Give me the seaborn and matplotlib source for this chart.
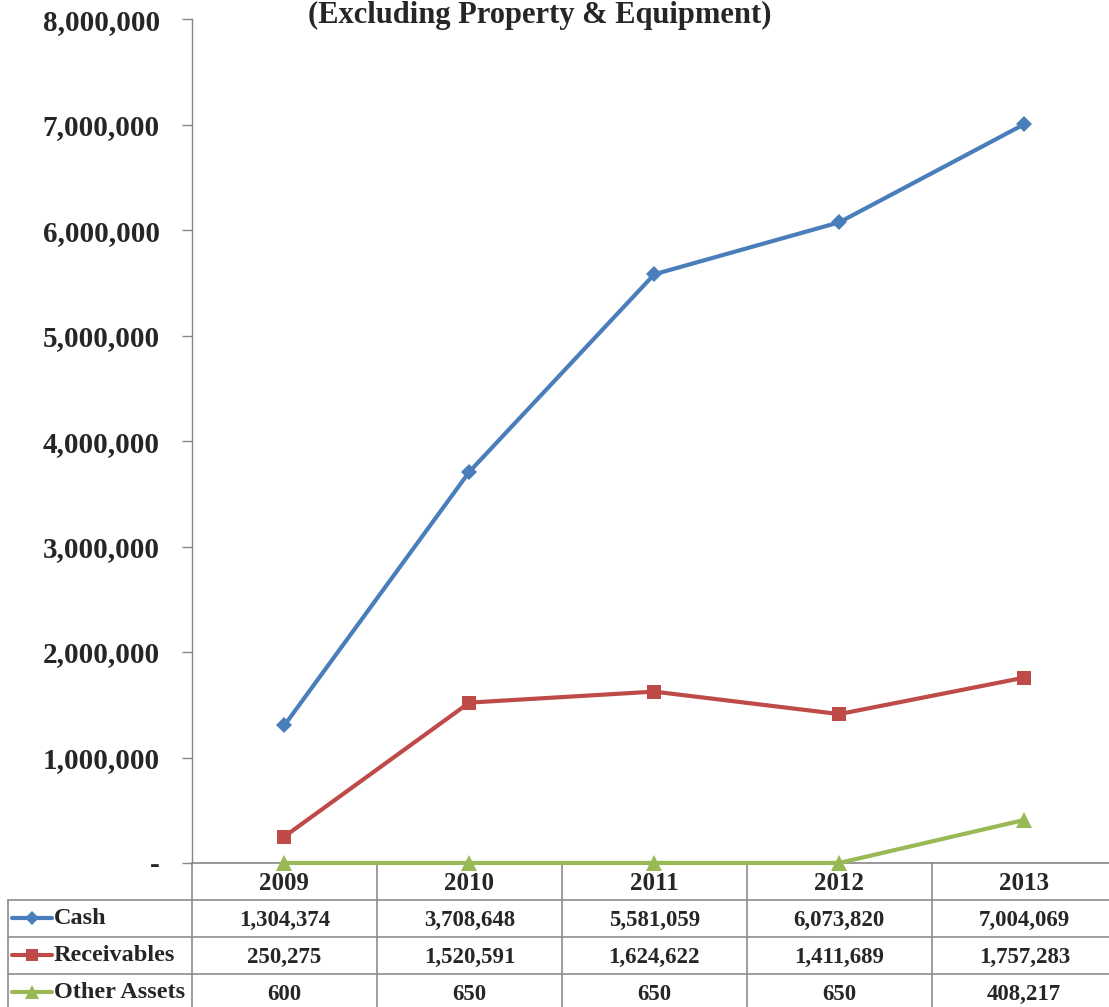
import matplotlib.pyplot as plt
import matplotlib.ticker as mticker
import numpy as np
import pandas as pd
import seaborn as sns
from matplotlib.lines import Line2D

# Chart data
years = ['2009', '2010', '2011', '2012', '2013']
cash = [1304374, 3708648, 5581059, 6073820, 7004069]
receivables = [250275, 1520591, 1624622, 1411689, 1757283]
other_assets = [600, 650, 650, 650, 408217]
series_names = ['Cash', 'Receivables', 'Other Assets']
title = '(Excluding Property & Equipment)'

colors = {'Cash': '#4A7EBB', 'Receivables': '#BE4B48', 'Other Assets': '#98B954'}
markers = {'Cash': 'D', 'Receivables': 's', 'Other Assets': '^'}
msizes = {'Cash': 8, 'Receivables': 10, 'Other Assets': 11}

df = pd.DataFrame({
    'pos': list(range(len(years))) * 3,
    'value': cash + receivables + other_assets,
    'series': [s for s in series_names for _ in years],
})

sns.set_theme(style='white')
plt.rcParams['font.family'] = ['Liberation Serif', 'DejaVu Serif']
plt.rcParams['font.weight'] = 'bold'

fig = plt.figure(figsize=(11.09, 10.07), dpi=100)
ax = fig.add_axes([0.173, 0.143, 0.834, 0.838])

for name in series_names:
    sub = df[df['series'] == name]
    sns.lineplot(x='pos', y='value', data=sub, ax=ax, color=colors[name],
                 marker=markers[name], markersize=msizes[name],
                 markeredgewidth=0, linewidth=3, clip_on=False, zorder=3)

ax.set_xlim(-0.5, len(years) - 0.5)
ax.set_ylim(0, 8000000)
ax.set_yticks(np.arange(0, 8000001, 1000000))
ax.yaxis.set_major_formatter(mticker.FuncFormatter(
    lambda v, p: '-' if v == 0 else f'{int(v):,}'))
ax.set_xticks([])
ax.set_xlabel('')
ax.set_ylabel('')
ax.tick_params(axis='y', labelsize=21, length=7, width=1, color='#868686',
               direction='out', left=True, pad=16)
for lab in ax.get_yticklabels():
    lab.set_fontweight('bold')
for side in ['top', 'right']:
    ax.spines[side].set_visible(False)
ax.spines['left'].set_color('#868686')
ax.spines['bottom'].set_color('#868686')
ax.spines['left'].set_linewidth(1)
ax.spines['bottom'].set_linewidth(1.2)
if ax.get_legend():
    ax.get_legend().remove()

fig.text(0.487, 0.999, title, ha='center', va='top', fontsize=22,
         fontweight='bold')

# Data table below the plot
tr = ax.get_xaxis_transform()
row_h = 37 / (0.838 * 1007)
grid_c = '#8c8c8c'
left_edge = -0.5 - (192 - 8) / (0.834 * 1109) * len(years)
n = len(years)
# header row
for i, y in enumerate(years):
    ax.text(i, -row_h * 0.55, y, transform=tr, ha='center', va='center',
            fontsize=18, fontweight='bold', clip_on=False)
# horizontal lines
for k in range(1, 5):
    ax.add_line(Line2D([left_edge, n - 0.5], [-row_h * k, -row_h * k],
                       transform=tr, color=grid_c, lw=1.2, clip_on=False))
# vertical lines
for k in range(n + 1):
    ax.add_line(Line2D([k - 0.5, k - 0.5], [0, -row_h * 4], transform=tr,
                       color=grid_c, lw=1.2, clip_on=False))
ax.add_line(Line2D([left_edge, left_edge], [-row_h, -row_h * 4], transform=tr,
                   color=grid_c, lw=1.2, clip_on=False))
rows = [cash, receivables, other_assets]
unit = len(years) / (0.834 * 1109)
for r, (name, vals) in enumerate(zip(series_names, rows)):
    yc = -row_h * (r + 1.5)
    ax.add_line(Line2D([left_edge + 4 * unit, left_edge + 44 * unit], [yc, yc],
                       transform=tr, color=colors[name], lw=3, clip_on=False))
    ax.add_line(Line2D([left_edge + 24 * unit], [yc], transform=tr,
                       color=colors[name], marker=markers[name],
                       markersize=msizes[name] * 0.9, markeredgewidth=0,
                       clip_on=False))
    ax.text(left_edge + 46 * unit, yc, name, transform=tr, ha='left',
            va='center', fontsize=17.5, fontweight='bold', clip_on=False)
    for i, v in enumerate(vals):
        ax.text(i, yc - row_h * 0.05, f'{v:,}', transform=tr, ha='center',
                va='center', fontsize=16.5, fontweight='bold', clip_on=False)

fig.savefig('out.png', dpi=100)
